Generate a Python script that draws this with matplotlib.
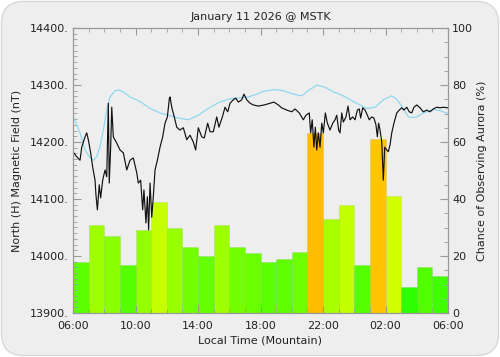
import matplotlib
matplotlib.use("Agg")
import matplotlib.pyplot as plt
from matplotlib.colors import LinearSegmentedColormap, Normalize
from matplotlib.patches import FancyBboxPatch
from matplotlib.ticker import MultipleLocator
from matplotlib.transforms import IdentityTransform

title = "January 11 2026 @ MSTK"
xlabel = "Local Time (Mountain)"
ylabel_left = "North (H) Magnetic Field (nT)"
ylabel_right = "Chance of Observing Aurora (%)"

# hours since 06:00 local
hour_ticks = [0, 4, 8, 12, 16, 20, 24]
hour_labels = ["06:00", "10:00", "14:00", "18:00", "22:00", "02:00", "06:00"]

# hourly aurora chance (%)
aurora_pct = [18, 31, 27, 17, 29, 39, 30, 23, 20, 31, 23, 21,
              18, 19, 21.5, 63, 33, 38, 17, 61, 41, 9, 16, 13]

# magnetometer H component (hours since 06:00, nT)
mag_t = [0.02, 0.24, 0.45, 0.56, 0.77, 0.88, 0.98, 1.13, 1.26, 1.41, 1.47, 1.56,
         1.68, 1.77, 1.90, 2.05, 2.16, 2.26, 2.32, 2.41, 2.48, 2.58, 2.80, 3.01,
         3.22, 3.44, 3.65, 3.86, 4.08, 4.18, 4.33, 4.46, 4.54, 4.67, 4.76, 4.84,
         4.93, 5.04, 5.14, 5.25, 5.40, 5.57, 5.74, 5.89, 6.04, 6.17, 6.21, 6.32,
         6.48, 6.64, 6.85, 7.06, 7.28, 7.49, 7.70, 7.85, 8.02, 8.24, 8.40, 8.62,
         8.77, 8.98, 9.20, 9.34, 9.56, 9.73, 9.90, 10.05, 10.26, 10.41, 10.58, 10.80,
         10.94, 11.12, 11.33, 11.54, 11.86, 12.24, 12.61, 12.86, 13.14, 13.35, 13.68, 14.00,
         14.21, 14.48, 14.74, 14.91, 15.12, 15.21, 15.31, 15.42, 15.51, 15.60, 15.70, 15.81,
         15.92, 16.02, 16.15, 16.28, 16.45, 16.62, 16.77, 16.88, 17.00, 17.09, 17.20, 17.30,
         17.47, 17.60, 17.73, 17.90, 18.05, 18.20, 18.32, 18.41, 18.54, 18.69, 18.84, 18.96,
         19.12, 19.26, 19.39, 19.48, 19.56, 19.65, 19.76, 19.86, 19.95, 20.08, 20.18, 20.29,
         20.40, 20.54, 20.72, 20.88, 21.04, 21.18, 21.36, 21.52, 21.68, 21.82, 22.00, 22.21,
         22.42, 22.64, 22.85, 23.06, 23.28, 23.49, 23.70, 23.98]
mag_h = [14182, 14174, 14168, 14191, 14209, 14216, 14204, 14181, 14156, 14133, 14107, 14081,
         14125, 14102, 14133, 14151, 14139, 14268, 14128, 14191, 14261, 14209, 14198, 14186,
         14181, 14151, 14168, 14172, 14146, 14128, 14133, 14081, 14116, 14058, 14104, 14046,
         14128, 14068, 14104, 14151, 14168, 14191, 14209, 14233, 14244, 14277, 14279, 14261,
         14244, 14226, 14221, 14225, 14204, 14212, 14200, 14186, 14225, 14209, 14207, 14233,
         14218, 14218, 14244, 14226, 14244, 14261, 14253, 14268, 14274, 14277, 14270, 14274,
         14284, 14274, 14268, 14265, 14263, 14265, 14268, 14270, 14265, 14260, 14256, 14253,
         14258, 14251, 14239, 14247, 14251, 14216, 14239, 14191, 14226, 14186, 14216, 14191,
         14233, 14216, 14251, 14233, 14221, 14233, 14239, 14247, 14221, 14216, 14251, 14235,
         14244, 14263, 14239, 14244, 14239, 14256, 14258, 14242, 14260, 14256, 14247, 14239,
         14244, 14242, 14230, 14209, 14233, 14221, 14200, 14133, 14191, 14186, 14183, 14195,
         14216, 14233, 14251, 14256, 14260, 14256, 14261, 14253, 14251, 14261, 14265, 14260,
         14253, 14256, 14253, 14258, 14261, 14260, 14261, 14260]

# smooth baseline (hours since 06:00, nT)
base_t = [0.02, 0.45, 0.77, 1.09, 1.30, 1.52, 1.73, 1.94, 2.16, 2.37, 2.69, 2.96,
          3.22, 3.65, 4.29, 4.93, 5.57, 6.10, 6.74, 7.38, 8.02, 8.66, 9.30, 9.94,
          10.58, 11.22, 11.76, 12.10, 12.40, 12.93, 13.46, 14.10, 14.64, 15.06, 15.60, 16.13,
          16.66, 17.30, 17.94, 18.37, 18.80, 19.33, 19.86, 20.40, 20.72, 21.14, 21.46, 21.68,
          22.00, 22.42, 23.06, 23.49, 24.0]
base_h = [14244, 14216, 14186, 14172, 14168, 14174, 14192, 14221, 14256, 14279, 14290, 14291,
          14288, 14279, 14271, 14259, 14251, 14247, 14242, 14239, 14247, 14259, 14269, 14275,
          14277, 14279, 14284, 14288, 14290, 14292, 14290, 14284, 14281, 14290, 14300, 14296,
          14288, 14281, 14271, 14265, 14259, 14261, 14274, 14281, 14275, 14259, 14244, 14243,
          14244, 14251, 14257, 14255, 14250]

plt.rcParams['font.family'] = ['DejaVu Sans']
txt = '#222222'
bg = '#eeeeee'
spine = '#999999'

fig = plt.figure(figsize=(5.0, 3.57), dpi=100, facecolor='white')
box = FancyBboxPatch((1.5, 1.5), 497, 354, boxstyle="round,pad=0,rounding_size=22",
                     transform=IdentityTransform(), facecolor=bg, edgecolor='#d8d8d8',
                     linewidth=1.0, zorder=-10)
fig.patches.append(box)

rect = [73 / 500, 1 - 313 / 357, 375 / 500, 285 / 357]
ax2 = fig.add_axes(rect)
ax = ax2.twinx()
# put lines in front of the bars
ax2.yaxis.tick_right()
ax2.yaxis.set_label_position('right')
ax.yaxis.tick_left()
ax.yaxis.set_label_position('left')
ax.set_zorder(ax2.get_zorder() + 1)
ax.patch.set_visible(False)
ax2.set_facecolor(bg)

cmap = LinearSegmentedColormap.from_list('aur', ['#00ff00', '#ffff00', '#ff0000'])
norm = Normalize(0, 100)
hours = list(range(len(aurora_pct)))
ax2.bar(hours, aurora_pct, width=1.0, align='edge',
        color=[cmap(norm(v)) for v in aurora_pct],
        edgecolor=(0, 0, 0, 0.06), linewidth=0.6)
ax2.set_ylim(0, 100)
ax2.yaxis.set_major_locator(MultipleLocator(20))
ax2.yaxis.set_minor_locator(MultipleLocator(5))
ax2.set_ylabel(ylabel_right, fontsize=8, color=txt, labelpad=3)

ax.plot(base_t, base_h, color='#8fd8ee', linewidth=0.9)
ax.plot(mag_t, mag_h, color='#111111', linewidth=0.85)
ax.set_ylim(13900, 14400)
ax.yaxis.set_major_locator(MultipleLocator(100))
ax.yaxis.set_minor_locator(MultipleLocator(10))
ax.set_yticks([13900, 14000, 14100, 14200, 14300, 14400])
ax.set_yticklabels([f"{v}." for v in [13900, 14000, 14100, 14200, 14300, 14400]])
ax.set_ylabel(ylabel_left, fontsize=8, color=txt, labelpad=6)

ax2.set_xlim(0, 24)
ax2.set_xticks(hour_ticks)
ax2.set_xticklabels(hour_labels)
ax2.xaxis.set_minor_locator(MultipleLocator(1))
ax2.set_xlabel(xlabel, fontsize=8, color=txt, labelpad=3)
ax2.tick_params(axis='x', which='both', top=True, direction='in', colors=spine,
                labelcolor=txt, labelsize=8, pad=6)
ax2.tick_params(axis='x', which='major', length=5)
ax2.tick_params(axis='x', which='minor', length=3)
ax2.tick_params(axis='y', which='major', direction='in', length=6, colors=spine,
                labelcolor=txt, labelsize=8, pad=3)
ax2.tick_params(axis='y', which='minor', direction='in', length=3, colors=spine)
ax.tick_params(axis='y', which='major', direction='in', length=6, colors=spine,
               labelcolor=txt, labelsize=8, pad=3)
ax.tick_params(axis='y', which='minor', direction='in', length=3, colors=spine)
for a in (ax, ax2):
    for s in a.spines.values():
        s.set_color(spine)
        s.set_linewidth(0.8)

fig.text((73 + 448) / 2 / 500, 1 - 17 / 357, title, ha='center', va='center',
         fontsize=8, color=txt)

fig.savefig('out.png', dpi=100, facecolor='white')
